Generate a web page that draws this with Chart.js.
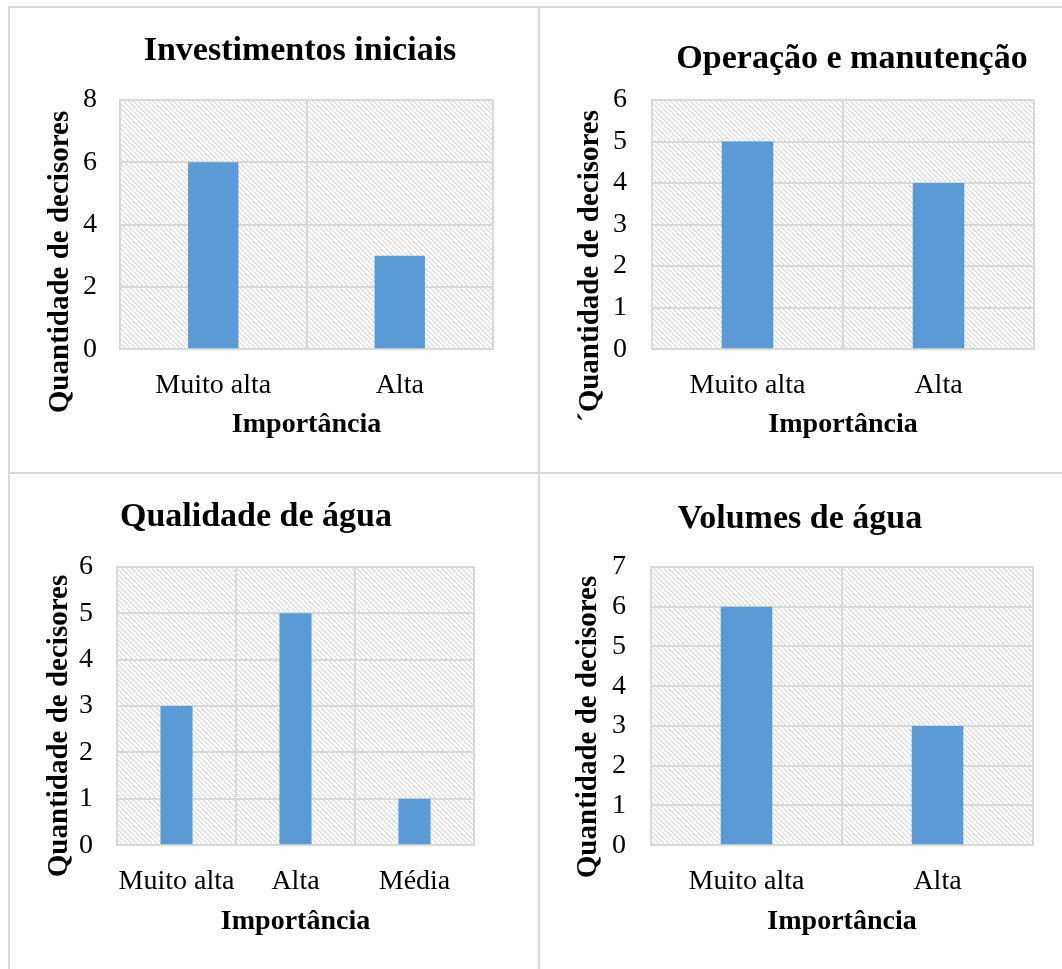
<!DOCTYPE html>
<html>
<head>
<meta charset="utf-8">
<script src="https://cdn.jsdelivr.net/npm/chart.js@4.4.1/dist/chart.umd.min.js"></script>
<style>
html, body { margin: 0; padding: 0; background: #fff; overflow: hidden; width: 1062px; height: 969px; }
body { position: relative; }
canvas { position: absolute; }
.linha { position: absolute; background: #d9d9d9; }
</style>
</head>
<body>
<!-- moldura da tabela 2x2 -->
<div class="linha" style="left:8px;top:6px;width:1054px;height:2px"></div>
<div class="linha" style="left:8px;top:6px;width:2px;height:963px"></div>
<div class="linha" style="left:538px;top:6px;width:2px;height:963px"></div>
<div class="linha" style="left:8px;top:472px;width:1054px;height:2px"></div>

<canvas id="grafInvest"></canvas>
<canvas id="grafOperacao"></canvas>
<canvas id="grafQualidade"></canvas>
<canvas id="grafVolumes"></canvas>

<script>
// categorias do eixo x
var categorias2 = ['Muito alta', 'Alta'];
var categorias3 = ['Muito alta', 'Alta', 'Média'];

// quantidade de decisores por importância
var investimentosIniciais = [6, 3];
var operacaoManutencao = [5, 4];
var qualidadeAgua = [3, 5, 1];
var volumesAgua = [6, 3];

// eixo y: máximo e passo de cada gráfico
var eixoInvest = [8, 2];
var eixoOperacao = [6, 1];
var eixoQualidade = [6, 1];
var eixoVolumes = [7, 1];

var fonte = "'Liberation Serif', 'Times New Roman', serif";

// fundo hachurado da área do gráfico
var tile = document.createElement('canvas');
tile.width = 5; tile.height = 5;
(function () {
    var g = tile.getContext('2d');
    g.fillStyle = '#ffffff';
    g.fillRect(0, 0, 5, 5);
    for (var i = 0; i < 5; i++) {
        g.fillStyle = '#d8d8d8';
        g.fillRect(i, i, 1, 1);
        g.fillStyle = '#eeeeee';
        g.fillRect((i + 1) % 5, i, 1, 1);
    }
})();

var fundoHachurado = {
    id: 'fundoHachurado',
    beforeDraw: function (chart) {
        var a = chart.chartArea;
        var ctx = chart.ctx;
        ctx.save();
        ctx.fillStyle = ctx.createPattern(tile, 'repeat');
        ctx.fillRect(a.left, a.top, a.right - a.left, a.bottom - a.top);
        ctx.restore();
    }
};

// título do eixo y (no original fica mais baixo que o centro da área)
var tituloEixoY = {
    id: 'tituloEixoY',
    afterDraw: function (chart, args, opts) {
        var ctx = chart.ctx;
        ctx.save();
        ctx.translate(opts.x, opts.y);
        ctx.rotate(-Math.PI / 2);
        ctx.font = 'bold 29px ' + fonte;
        ctx.fillStyle = '#000';
        ctx.textAlign = 'center';
        ctx.textBaseline = 'middle';
        ctx.fillText(opts.text, 0, 0);
        ctx.restore();
    }
};

function desenhar(id, titulo, rotulos, valores, eixo, tituloY, g) {
    var tLH = 34 * 1.2, yLH = 29 * 1.2, xLH = 28 * 1.2;
    var esq = g.yTitleX - yLH / 2;
    // canvas centrado no título
    var meia = Math.round(Math.max(g.titleX - esq + 6, g.plotR + 8 - g.titleX));
    var L = g.titleX - meia, W = 2 * meia;
    var T = Math.round(g.titleY - tLH / 2);
    var H = Math.round(g.xTitleY + xLH / 2 + 4 - T);

    var canvas = document.getElementById(id);
    canvas.width = W;
    canvas.height = H;
    canvas.style.left = L + 'px';
    canvas.style.top = T + 'px';

    return new Chart(canvas.getContext('2d'), {
        type: 'bar',
        data: {
            labels: rotulos,
            datasets: [{
                data: valores,
                backgroundColor: '#5b9bd5',
                borderWidth: 0,
                barPercentage: 0.27,
                categoryPercentage: 1
            }]
        },
        options: {
            responsive: false,
            animation: false,
            layout: { padding: { left: 0, right: 0, top: 0, bottom: 4 } },
            plugins: {
                legend: { display: false },
                tooltip: { enabled: false },
                title: {
                    display: true,
                    text: titulo,
                    color: '#000',
                    font: { family: fonte, size: 34, weight: 'bold', lineHeight: 1.2 },
                    padding: { top: 0, bottom: g.plotT - T - tLH }
                },
                tituloEixoY: { text: tituloY, x: g.yTitleX - L, y: g.yTitleY - T }
            },
            scales: {
                x: {
                    grid: { color: '#d9d9d9', lineWidth: 2, drawTicks: false },
                    border: { color: '#d9d9d9', width: 2 },
                    ticks: {
                        color: '#000',
                        font: { family: fonte, size: 28 },
                        padding: 20,
                        autoSkip: false,
                        maxRotation: 0,
                        minRotation: 0
                    },
                    title: {
                        display: true,
                        text: 'Importância',
                        color: '#000',
                        font: { family: fonte, size: 28, weight: 'bold', lineHeight: 1.2 },
                        padding: 0
                    },
                    afterFit: function (s) { s.height = g.xTitleY + xLH / 2 - g.plotB; }
                },
                y: {
                    min: 0,
                    max: eixo[0],
                    grid: { color: '#d9d9d9', lineWidth: 2, drawTicks: false },
                    border: { color: '#d9d9d9', width: 2 },
                    ticks: {
                        stepSize: eixo[1],
                        color: '#000',
                        font: { family: fonte, size: 28 },
                        padding: g.plotL - g.yTickRight
                    },
                    afterFit: function (s) { s.width = g.plotL - L; }
                },
                // eixo vazio só para reservar a margem direita
                margem: {
                    type: 'linear',
                    position: 'right',
                    grid: { display: false },
                    border: { display: false },
                    ticks: { display: false },
                    afterFit: function (s) { s.width = L + W - g.plotR; }
                }
            }
        },
        plugins: [fundoHachurado, tituloEixoY]
    });
}

desenhar('grafInvest', 'Investimentos iniciais', categorias2, investimentosIniciais, eixoInvest,
    'Quantidade de decisores',
    { plotL: 120, plotR: 493, plotT: 100, plotB: 349, titleX: 300, titleY: 51, yTitleX: 61, yTitleY: 262, yTickRight: 97, xTitleY: 425 });

desenhar('grafOperacao', 'Operação e manutenção', categorias2, operacaoManutencao, eixoOperacao,
    '´Quantidade de decisores',
    { plotL: 652, plotR: 1034, plotT: 100, plotB: 349, titleX: 852, titleY: 59, yTitleX: 591, yTitleY: 266, yTickRight: 627, xTitleY: 425 });

desenhar('grafQualidade', 'Qualidade de água', categorias3, qualidadeAgua, eixoQualidade,
    'Quantidade de decisores',
    { plotL: 117, plotR: 474, plotT: 567, plotB: 845, titleX: 256, titleY: 517, yTitleX: 60, yTitleY: 726, yTickRight: 93, xTitleY: 922 });

desenhar('grafVolumes', 'Volumes de água', categorias2, volumesAgua, eixoVolumes,
    'Quantidade de decisores',
    { plotL: 651, plotR: 1033, plotT: 567, plotB: 845, titleX: 800, titleY: 519, yTitleX: 589, yTitleY: 727, yTickRight: 626, xTitleY: 922 });
</script>
</body>
</html>
